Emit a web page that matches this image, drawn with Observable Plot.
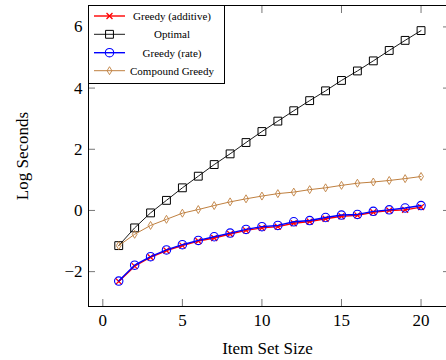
<!DOCTYPE html>
<html><head><meta charset="utf-8">
<script src="https://cdn.jsdelivr.net/npm/d3@7"></script>
<script src="https://cdn.jsdelivr.net/npm/@observablehq/plot@0.6"></script>
<style>
html,body{margin:0;padding:0;background:#fff;}
#wrap{position:relative;width:446px;height:360px;overflow:hidden;}
#legend{position:absolute;left:88px;top:5px;}
</style></head><body><div id="wrap"></div>
<script>
const itemSetSize = [1,2,3,4,5,6,7,8,9,10,11,12,13,14,15,16,17,18,19,20];
const greedyAdditive = [-2.32,-1.82,-1.53,-1.31,-1.15,-1.00,-0.90,-0.77,-0.65,-0.57,-0.53,-0.42,-0.36,-0.27,-0.19,-0.16,-0.06,0.00,0.02,0.11];
const optimal = [-1.15,-0.57,-0.08,0.33,0.74,1.12,1.50,1.85,2.22,2.58,2.92,3.26,3.59,3.91,4.25,4.56,4.89,5.23,5.56,5.88];
const greedyRate = [-2.31,-1.79,-1.51,-1.29,-1.12,-0.98,-0.86,-0.74,-0.62,-0.53,-0.49,-0.37,-0.33,-0.23,-0.15,-0.13,-0.03,0.02,0.08,0.16];
const compoundGreedy = [-1.15,-0.78,-0.49,-0.29,-0.09,0.03,0.16,0.28,0.38,0.47,0.55,0.60,0.68,0.74,0.82,0.89,0.93,0.98,1.04,1.11];
const seriesNames = ["Greedy (additive)","Optimal","Greedy (rate)","Compound Greedy"];
const xTicks = [0,5,10,15,20];
const yTicks = [-2,0,2,4,6];
const xLabel = "Item Set Size";
const yLabel = "Log Seconds";

const seriesValues = [greedyAdditive, optimal, greedyRate, compoundGreedy];
const rows = seriesNames.flatMap((name, i) => itemSetSize.map((x, j) => ({series: name, x, y: seriesValues[i][j]})));

const narrowDiamond = {draw(ctx, size) {
  const r = Math.sqrt(size / Math.PI), w = r * 0.6;
  ctx.moveTo(0, -r); ctx.lineTo(w, 0); ctx.lineTo(0, r); ctx.lineTo(-w, 0); ctx.closePath();
}};
const styles = [
  {color: "#ff0000", symbol: "times", r: 2.8, lw: 1.4, sw: 1.3},
  {color: "#000000", symbol: "square2", r: 5, lw: 0.9, sw: 1},
  {color: "#0000ff", symbol: "circle", r: 4.2, lw: 1.4, sw: 1.1},
  {color: "#bf8040", symbol: narrowDiamond, r: 4, lw: 1, sw: 0.9}
];
const fmt = d => d < 0 ? "\u2212" + (-d) : String(d);
const tickColor = "#777";

const seriesMarks = seriesNames.flatMap((name, i) => {
  const data = rows.filter(d => d.series === name);
  const s = styles[i];
  return [
    Plot.line(data, {x: "x", y: "y", stroke: s.color, strokeWidth: s.lw}),
    Plot.dot(data, {x: "x", y: "y", symbol: s.symbol, r: s.r, stroke: s.color, fill: "none", strokeWidth: s.sw})
  ];
});

const chart = Plot.plot({
  width: 446, height: 360,
  marginLeft: 88, marginRight: 0, marginTop: 5, marginBottom: 54,
  style: {fontFamily: "'Liberation Serif', 'Times New Roman', serif", fontSize: "17px", background: "white", color: "black"},
  x: {domain: [-0.9, 21.6]},
  y: {domain: [-3.14, 6.70]},
  marks: [
    ...seriesMarks,
    Plot.axisX({ticks: xTicks, anchor: "bottom", tickSize: 0, tickPadding: 7, tickFormat: fmt, label: xLabel, labelAnchor: "center", labelArrow: "none", labelOffset: 47}),
    Plot.axisY({ticks: yTicks, anchor: "left", tickSize: 0, tickPadding: 6, tickFormat: fmt, label: yLabel, labelAnchor: "center", labelArrow: "none", labelOffset: 73}),
    Plot.axisX({ticks: xTicks, anchor: "bottom", tickSize: 7, dy: -7, tickFormat: () => "", label: null, stroke: tickColor}),
    Plot.axisX({ticks: xTicks, anchor: "top", tickSize: 7, dy: 7, tickFormat: () => "", label: null, stroke: tickColor}),
    Plot.axisY({ticks: yTicks, anchor: "left", tickSize: 7, dx: 7, tickFormat: () => "", label: null, stroke: tickColor}),
    Plot.axisY({ticks: yTicks, anchor: "right", tickSize: 4, dx: -4, tickFormat: () => "", label: null, stroke: tickColor}),
    Plot.frame({stroke: "black", strokeWidth: 1})
  ]
});
const wrap = document.getElementById("wrap");
wrap.appendChild(chart);

// legend
const lw = 136, lh = 78, rowY = [11, 29.3, 47.7, 65.7];
const leg = d3.select(wrap).append("svg").attr("id", "legend").attr("width", lw + 1).attr("height", lh + 1);
leg.append("rect").attr("x", 0.5).attr("y", 0.5).attr("width", lw).attr("height", lh).attr("fill", "white").attr("stroke", "black");
const symMap = {times: d3.symbolTimes, square2: d3.symbolSquare2, circle: d3.symbolCircle};
seriesNames.forEach((name, i) => {
  const s = styles[i], y = rowY[i];
  const g = leg.append("g");
  g.append("line").attr("x1", 6).attr("x2", 37).attr("y1", y).attr("y2", y).attr("stroke", s.color).attr("stroke-width", s.lw);
  const sym = typeof s.symbol === "string" ? symMap[s.symbol] : s.symbol;
  g.append("path").attr("transform", `translate(21.5,${y})`).attr("d", d3.symbol(sym, s.r * s.r * Math.PI)()).attr("fill", "none").attr("stroke", s.color).attr("stroke-width", s.sw);
  g.append("text").attr("x", 84).attr("y", y).attr("dy", "0.35em").attr("text-anchor", "middle")
    .attr("font-family", "'Liberation Serif', 'Times New Roman', serif").attr("font-size", 11).text(name);
});
</script></body></html>
